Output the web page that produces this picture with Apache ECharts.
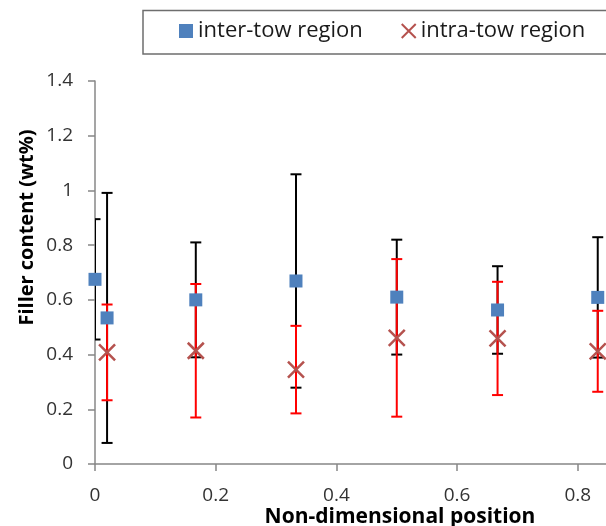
<!DOCTYPE html>
<html>
<head>
<meta charset="utf-8">
<script src="https://cdn.jsdelivr.net/npm/echarts@6/dist/echarts.min.js"></script>
<style>
  html, body { margin: 0; padding: 0; background: #fff; overflow: hidden; }
  #chart { width: 606px; height: 526px; }
</style>
</head>
<body>
<div id="chart"></div>
<script>
// Filler content measured along the non-dimensional position (mean ± error)
const interPosition = [0, 0.02, 0.167, 0.333, 0.5, 0.667, 0.833];
const interMean     = [0.675, 0.534, 0.60, 0.669, 0.61, 0.563, 0.609];
const interError    = [0.22, 0.457, 0.21, 0.39, 0.21, 0.16, 0.22];

const intraPosition = [0.02, 0.167, 0.333, 0.5, 0.667, 0.833];
const intraMean     = [0.408, 0.414, 0.345, 0.461, 0.459, 0.412];
const intraError    = [0.175, 0.244, 0.16, 0.288, 0.207, 0.148];

const yTicks = [0, 0.2, 0.4, 0.6, 0.8, 1, 1.2, 1.4];
const xTicks = [0, 0.2, 0.4, 0.6, 0.8];

const FONT = '"Open Sans", "Noto Sans", sans-serif';

const interPoints = interPosition.map((x, i) => [x, interMean[i]]);
const intraPoints = intraPosition.map((x, i) => [x, intraMean[i]]);
const interBars = interPosition.map((x, i) => [x, interMean[i], interError[i]]);
const intraBars = intraPosition.map((x, i) => [x, intraMean[i], intraError[i]]);

function errorBar(color) {
  return function (params, api) {
    const x = api.value(0), m = api.value(1), e = api.value(2);
    const hi = api.coord([x, m + e]);
    const lo = api.coord([x, m - e]);
    const cap = 5.5;
    const style = { stroke: color, lineWidth: 2 };
    return {
      type: 'group',
      children: [
        { type: 'line', shape: { x1: hi[0], y1: hi[1], x2: lo[0], y2: lo[1] }, style },
        { type: 'line', shape: { x1: hi[0] - cap, y1: hi[1], x2: hi[0] + cap, y2: hi[1] }, style },
        { type: 'line', shape: { x1: lo[0] - cap, y1: lo[1], x2: lo[0] + cap, y2: lo[1] }, style }
      ]
    };
  };
}

const chart = echarts.init(document.getElementById('chart'), null, { renderer: 'canvas' });

chart.setOption({
  animation: false,
  backgroundColor: '#ffffff',
  grid: {
    left: 95, right: -2, top: 81, bottom: 62,
    containLabel: false,
    outerBoundsMode: 'none'
  },
  // legend frame: open on the right, continuing past the canvas edge
  graphic: [{
    type: 'polyline',
    silent: true,
    shape: { points: [[680, 10.5], [143, 10.5], [143, 54], [680, 54]] },
    style: { fill: 'none', stroke: '#6e6e6e', lineWidth: 1.5 }
  }],
  legend: {
    orient: 'horizontal',
    left: 143,
    top: 10,
    width: 560,
    padding: [10, 40, 11, 36],
    borderWidth: 0,
    backgroundColor: 'transparent',
    itemWidth: 14,
    itemHeight: 14,
    itemGap: 38,
    textStyle: { fontFamily: FONT, fontSize: 22, color: '#1a1a1a' },
    data: ['inter-tow region', 'intra-tow region']
  },
  xAxis: {
    type: 'value',
    min: 0,
    max: 0.85,
    interval: 0.2,
    name: 'Non-dimensional position',
    nameLocation: 'middle',
    nameGap: 43,
    nameMoveOverlap: false,
    nameTextStyle: {
      fontFamily: FONT, fontSize: 21, fontWeight: 'bold', color: '#000',
      padding: [0, 0, 0, 97]
    },
    axisLine: { show: true, lineStyle: { color: '#878787', width: 1.5 } },
    axisTick: { show: true, length: 7, inside: false, lineStyle: { color: '#878787', width: 1.5 } },
    axisLabel: {
      fontFamily: FONT, fontSize: 19, color: '#333', margin: 22,
      showMaxLabel: false,
      formatter: v => (xTicks.some(t => Math.abs(t - v) < 1e-9) ? String(v) : '')
    },
    splitLine: { show: false }
  },
  yAxis: {
    type: 'value',
    min: 0,
    max: 1.4,
    interval: 0.2,
    name: 'Filler content (wt%)',
    nameLocation: 'middle',
    nameRotate: 90,
    nameGap: 58,
    nameMoveOverlap: false,
    nameTextStyle: {
      fontFamily: FONT, fontSize: 20, fontWeight: 'bold', color: '#000',
      padding: [0, 0, 0, 90]
    },
    axisLine: { show: true, lineStyle: { color: '#878787', width: 1.5 } },
    axisTick: { show: true, length: 7, inside: false, lineStyle: { color: '#878787', width: 1.5 } },
    axisLabel: {
      fontFamily: FONT, fontSize: 19, color: '#333', margin: 22,
      formatter: v => String(yTicks.find(t => Math.abs(t - v) < 1e-9) ?? v)
    },
    splitLine: { show: false }
  },
  series: [
    {
      name: 'inter-tow error',
      type: 'custom',
      clip: true,
      z: 1,
      renderItem: errorBar('#000000'),
      data: interBars,
      encode: { x: 0, y: 1 },
      silent: true
    },
    {
      name: 'intra-tow error',
      type: 'custom',
      clip: true,
      z: 2,
      renderItem: errorBar('#ff0000'),
      data: intraBars,
      encode: { x: 0, y: 1 },
      silent: true
    },
    {
      name: 'inter-tow region',
      type: 'scatter',
      z: 3,
      symbol: 'rect',
      symbolSize: 13,
      itemStyle: { color: '#4f81bd', opacity: 1 },
      data: interPoints
    },
    {
      name: 'intra-tow region',
      type: 'scatter',
      z: 4,
      symbol: 'path://M0,0L10,10M10,0L0,10',
      symbolSize: 16,
      itemStyle: { color: 'rgba(0,0,0,0)', borderColor: '#b5524e', borderWidth: 2.5, opacity: 1 },
      data: intraPoints
    }
  ]
});
</script>
</body>
</html>
